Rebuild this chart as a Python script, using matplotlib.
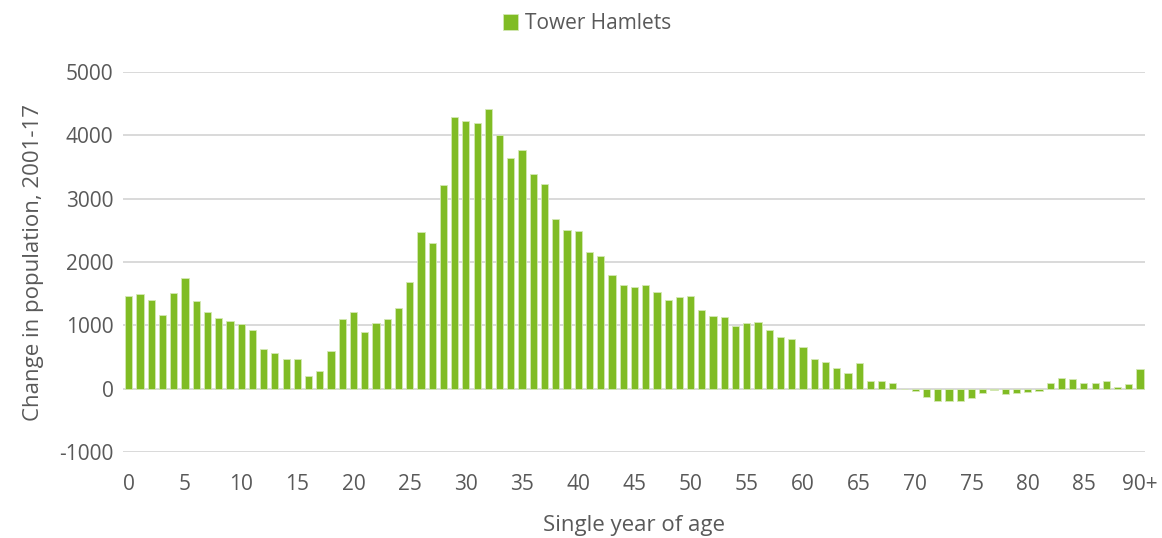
import numpy as np
import matplotlib
matplotlib.use('Agg')
import matplotlib.pyplot as plt

# Change in population 2001-17 by single year of age, Tower Hamlets
ages = list(range(91))
tick_labels = ['0', '5', '10', '15', '20', '25', '30', '35', '40', '45',
               '50', '55', '60', '65', '70', '75', '80', '85', '90+']
change = [
    1470, 1490, 1400, 1155, 1515, 1755, 1385, 1210, 1115, 1065,
    1015, 925, 620, 570, 475, 465, 200, 280, 595, 1105,
    1215, 900, 1035, 1105, 1280, 1685, 2470, 2305, 3220, 4290,
    4230, 4200, 4415, 4005, 3645, 3775, 3395, 3240, 2685, 2500,
    2490, 2155, 2100, 1795, 1630, 1605, 1630, 1530, 1405, 1455,
    1470, 1240, 1140, 1125, 995, 1035, 1060, 925, 815, 790,
    665, 465, 425, 325, 245, 405, 115, 125, 90, 0,
    -40, -130, -200, -200, -200, -145, -65, -25, -85, -65,
    -55, -30, 95, 170, 145, 95, 95, 120, 30, 75,
    310,
]

green = '#80bc24'
grey = '#595959'

plt.rcParams['font.family'] = ['Open Sans', 'DejaVu Sans']
plt.rcParams['axes.unicode_minus'] = False

fig = plt.figure(figsize=(11.62, 5.38), dpi=100)
ax = fig.add_axes([0.106, 0.160, 0.879, 0.706])

ax.bar(ages, change, width=0.64, color=green, edgecolor='#d4e8b4',
       linewidth=0.6, zorder=3, label='Tower Hamlets')

ax.set_ylim(-1000, 5000)
ax.set_xlim(-0.5, 90.4)
ax.set_yticks(range(-1000, 5001, 1000))
ax.set_xticks(range(0, 91, 5))
ax.set_xticklabels(tick_labels)
ax.grid(axis='y', color='#d9d9d9', linewidth=1.4, zorder=0)
for s in ax.spines.values():
    s.set_visible(False)
ax.tick_params(length=0, labelsize=15, colors=grey)
ax.tick_params(axis='x', pad=16)
ax.tick_params(axis='y', pad=7)

ax.set_ylabel('Change in population, 2001-17', fontsize=16, color=grey, labelpad=11)
ax.set_xlabel('Single year of age', fontsize=16, color=grey, labelpad=14)

leg = fig.legend(loc='upper center', bbox_to_anchor=(0.505, 1.01), frameon=False,
                 fontsize=15, handlelength=0.75, handleheight=0.75,
                 handletextpad=0.3, labelcolor=grey)

fig.savefig('out.png', dpi=100)
